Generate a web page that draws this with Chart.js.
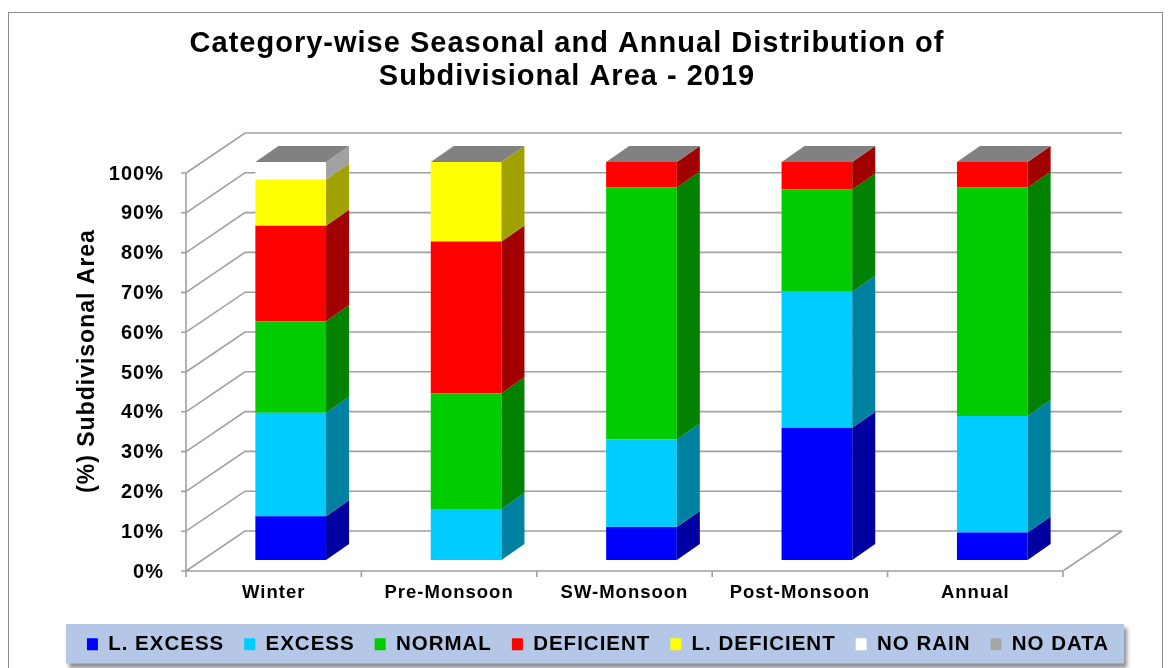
<!DOCTYPE html>
<html lang="en">
  <head>
    <meta charset="UTF-8" />
    <meta name="viewport" content="width=device-width, initial-scale=1.0" />
    <script src="https://cdn.jsdelivr.net/npm/chart.js@4.4.0/dist/chart.umd.min.js"></script>
    <title>Subdivisional Area - 2019</title>
    <style>
      body { margin: 0; background: #fff; }
    </style>
  </head>
  <body>
    <canvas id="myChart" width="1171" height="668"></canvas>
    <script>
      // values in % of subdivisional area
      const categories = ["Winter", "Pre-Monsoon", "SW-Monsoon", "Post-Monsoon", "Annual"];
      const lExcess = [11, 0, 8.3, 33.2, 6.9];
      const excess = [26, 12.8, 22, 34.2, 29.3];
      const normal = [23, 29.1, 63.3, 25.7, 57.4];
      const deficient = [24, 38.1, 6.4, 6.9, 6.4];
      const lDeficient = [11.6, 20, 0, 0, 0];
      const noRain = [4.4, 0, 0, 0, 0];
      const noData = [0, 0, 0, 0, 0];

      const seriesNames = ["L. EXCESS", "EXCESS", "NORMAL", "DEFICIENT", "L. DEFICIENT", "NO RAIN", "NO DATA"];
      const seriesColors = ["#0000ff", "#00ccff", "#00cc00", "#ff0000", "#ffff00", "#ffffff", "#a6a6a6"];
      const titleLines = ["Category-wise Seasonal and Annual Distribution of", "Subdivisional Area - 2019"];

      const FONT = "'Liberation Sans', Arial, sans-serif";
      // 3d offsets relative to the plane of the bar fronts
      const D = { fx: -17, fy: 11, bx: 42, by: -29, barX: 23, barY: 16 };

      function shade(hex, f) {
        const n = parseInt(hex.slice(1), 16);
        const r = Math.round(((n >> 16) & 255) * f);
        const g = Math.round(((n >> 8) & 255) * f);
        const b = Math.round((n & 255) * f);
        return "rgb(" + r + "," + g + "," + b + ")";
      }

      const threeD = {
        id: "threeD",
        beforeUpdate(chart) {
          chart.ctx.letterSpacing = "1px";
        },
        beforeDraw(chart) {
          const ctx = chart.ctx;
          ctx.letterSpacing = "1px";
          ctx.save();
          ctx.fillStyle = "#fff";
          ctx.fillRect(0, 0, chart.width, chart.height);
          // outer frame
          ctx.strokeStyle = "#8c8c8c";
          ctx.lineWidth = 1;
          ctx.strokeRect(8.5, 12.5, chart.width - 17, chart.height + 20);
          // title
          ctx.fillStyle = "#000";
          ctx.font = "bold 29px " + FONT;
          ctx.textAlign = "center";
          ctx.textBaseline = "middle";
          titleLines.forEach((t, i) => ctx.fillText(t, 567, 44 + i * 33));
          // legend backdrop
          const hb = chart.legend.legendHitBoxes;
          if (hb && hb.length) {
            const first = hb[0];
            const last = hb[hb.length - 1];
            const x0 = first.left - 21;
            const x1 = last.left + last.width + 15;
            const y0 = first.top - 10;
            const y1 = first.top + first.height + 9;
            ctx.shadowColor = "rgba(0,0,0,0.45)";
            ctx.shadowOffsetX = 3;
            ctx.shadowOffsetY = 4;
            ctx.shadowBlur = 4;
            ctx.fillStyle = "#b4c7e7";
            ctx.fillRect(x0, y0, x1 - x0, y1 - y0);
          }
          ctx.restore();
        },
        beforeDatasetsDraw(chart) {
          const { ctx, chartArea: a, scales } = chart;
          const x = scales.x;
          const y = scales.y;
          ctx.save();
          ctx.strokeStyle = "#a0a0a0";
          ctx.lineWidth = 1.6;
          ctx.beginPath();
          y.ticks.forEach((t) => {
            const py = y.getPixelForValue(t.value);
            // side wall diagonal and back wall line
            ctx.moveTo(a.left + D.fx, py + D.fy);
            ctx.lineTo(a.left + D.bx, py + D.by);
            ctx.lineTo(a.right + D.bx, py + D.by);
            // tick mark on the front axis
            ctx.moveTo(a.left + D.fx - 5, py + D.fy);
            ctx.lineTo(a.left + D.fx, py + D.fy);
          });
          const yTop = y.getPixelForValue(y.max);
          const yBot = y.getPixelForValue(y.min);
          ctx.moveTo(a.left + D.fx, yTop + D.fy);
          ctx.lineTo(a.left + D.fx, yBot + D.fy);
          ctx.lineTo(a.right + D.fx, yBot + D.fy);
          ctx.lineTo(a.right + D.bx, yBot + D.by);
          for (let i = 0; i <= categories.length; i++) {
            const px = x.getPixelForValue(i - 0.5) + D.fx;
            ctx.moveTo(px, yBot + D.fy);
            ctx.lineTo(px, yBot + D.fy + 6);
          }
          ctx.stroke();
          ctx.restore();
        },
        afterDatasetsDraw(chart) {
          const ctx = chart.ctx;
          const metas = chart.data.datasets.map((d, i) => chart.getDatasetMeta(i));
          ctx.save();
          categories.forEach((c, j) => {
            let top = null;
            metas.forEach((meta, i) => {
              const p = meta.data[j].getProps(["x", "y", "base", "width"], true);
              const x1 = p.x - p.width / 2;
              const x2 = p.x + p.width / 2;
              if (Math.abs(p.base - p.y) > 0.5) {
                ctx.fillStyle = shade(seriesColors[i], 0.63);
                ctx.beginPath();
                ctx.moveTo(x2, p.y);
                ctx.lineTo(x2 + D.barX, p.y - D.barY);
                ctx.lineTo(x2 + D.barX, p.base - D.barY);
                ctx.lineTo(x2, p.base);
                ctx.closePath();
                ctx.fill();
              }
              if (top === null || p.y < top.y) top = { x1: x1, x2: x2, y: p.y };
            });
            // top face
            ctx.fillStyle = shade(seriesColors[seriesColors.length - 1], 0.78);
            ctx.beginPath();
            ctx.moveTo(top.x1, top.y);
            ctx.lineTo(top.x2, top.y);
            ctx.lineTo(top.x2 + D.barX, top.y - D.barY);
            ctx.lineTo(top.x1 + D.barX, top.y - D.barY);
            ctx.closePath();
            ctx.fill();
          });
          ctx.restore();
        },
      };

      const allData = [lExcess, excess, normal, deficient, lDeficient, noRain, noData];
      const datasets = allData.map((d, i) => ({
        label: seriesNames[i],
        data: d,
        backgroundColor: seriesColors[i],
        borderWidth: 0,
      }));

      const config = {
        type: "bar",
        data: { labels: categories, datasets: datasets },
        options: {
          responsive: false,
          animation: false,
          layout: { padding: { top: 162, left: 25, right: 0, bottom: 3.5 } },
          datasets: { bar: { barPercentage: 0.403, categoryPercentage: 1 } },
          plugins: {
            title: { display: false },
            tooltip: { enabled: false },
            legend: {
              position: "bottom",
              onClick: (e) => e.stopPropagation,
              labels: {
                boxWidth: 11,
                boxHeight: 12,
                padding: 20,
                color: "#000",
                font: { family: FONT, size: 20.5, weight: "bold" },
              },
            },
          },
          scales: {
            x: {
              stacked: true,
              grid: { display: false, drawTicks: false },
              border: { display: false },
              ticks: {
                color: "#000",
                font: { family: FONT, size: 18.5, weight: "bold" },
                padding: 22,
                labelOffset: D.fx,
                maxRotation: 0,
                autoSkip: false,
              },
              afterFit(s) {
                s.height = 54;
              },
            },
            y: {
              stacked: true,
              min: 0,
              max: 100,
              grid: { display: false, drawTicks: false },
              border: { display: false },
              ticks: {
                stepSize: 10,
                padding: 39,
                labelOffset: 12,
                color: "#000",
                font: { family: FONT, size: 20, weight: "bold" },
                callback: (v) => v + "%",
              },
              title: {
                display: true,
                text: "(%) Subdivisonal Area",
                color: "#000",
                font: { family: FONT, size: 23, weight: "bold" },
                padding: { top: 49, bottom: 0 },
              },
              afterFit(s) {
                s.width = 178;
              },
            },
            // empty axis on the right, only to keep room for the 3d depth
            yRight: {
              position: "right",
              grid: { display: false, drawTicks: false },
              border: { display: false },
              ticks: { display: false },
              afterFit(s) {
                s.width = 91;
              },
            },
          },
        },
        plugins: [threeD],
      };

      const myChart = new Chart(document.getElementById("myChart"), config);
    </script>
  </body>
</html>
